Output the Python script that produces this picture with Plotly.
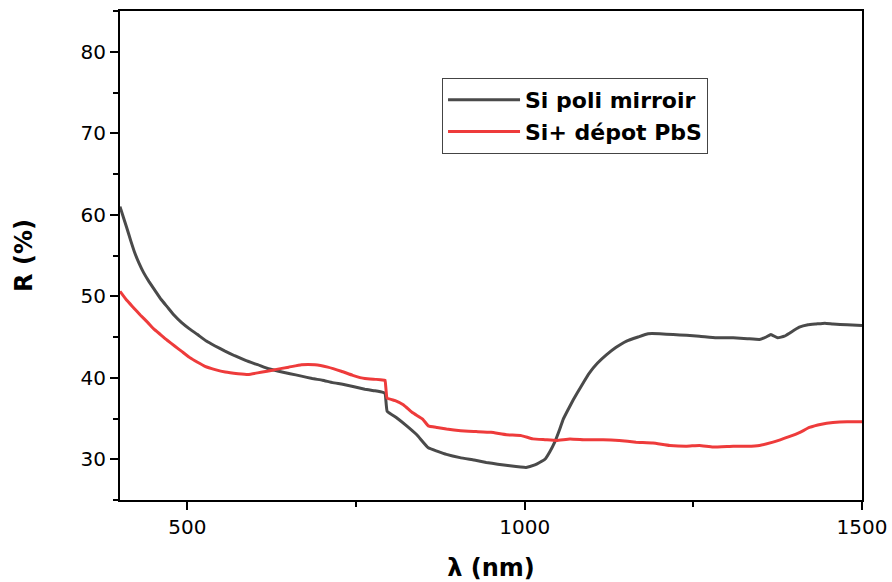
import plotly.graph_objects as go

# Wavelength (nm) and reflectance (%)
x_si = [400, 405, 410, 416, 422, 428, 435, 443, 452, 461, 470, 480, 491, 503, 515, 528, 541, 555, 570,
        587, 604, 620, 635, 652, 669, 685, 700, 715, 730, 747, 763, 778, 790, 793, 796,
        810, 825, 840, 857, 870, 884, 904, 925, 943, 960, 978, 1002, 1015, 1022, 1030, 1037, 1045, 1052,
        1057, 1065, 1072, 1084, 1096, 1108, 1121, 1135, 1151, 1168, 1183, 1200, 1220, 1240, 1259, 1284,
        1309, 1330, 1348, 1358, 1365, 1375, 1385, 1393, 1407, 1420, 1432, 1445, 1457, 1478, 1500]
r_si = [61.0, 59.7, 58.4, 56.8, 55.3, 54.1, 52.9, 51.8, 50.7, 49.6, 48.7, 47.7, 46.8, 46.0, 45.3, 44.5,
        43.9, 43.3, 42.7, 42.1, 41.6, 41.1, 40.8, 40.5, 40.2, 39.9, 39.7, 39.4, 39.2, 38.9, 38.6, 38.4,
        38.2, 38.1, 35.9, 35.1, 34.1, 33.0, 31.4, 31.0, 30.6, 30.2, 29.9, 29.6, 29.4, 29.2, 29.0, 29.3,
        29.6, 30.0, 30.9, 32.2, 33.7, 34.9, 36.2, 37.3, 39.0, 40.6, 41.8, 42.8, 43.7, 44.5, 45.0, 45.4,
        45.4, 45.3, 45.2, 45.1, 44.9, 44.9, 44.8, 44.7, 45.0, 45.3, 44.9, 45.1, 45.5, 46.2, 46.5, 46.6,
        46.7, 46.6, 46.5, 46.4]

x_pbs = [400, 410, 420, 430, 441, 450, 460, 470, 481, 492, 503, 515, 526, 541, 556, 575, 590, 604, 618,
         630, 650, 669, 689, 708, 728, 745, 763, 780, 792, 793, 796, 808, 820, 834, 849, 857, 870, 884,
         905, 928, 950, 973, 995, 1012, 1030, 1047, 1067, 1090, 1116, 1140, 1165, 1190, 1215, 1240, 1259,
         1279, 1309, 1330, 1348, 1368, 1393, 1408, 1422, 1440, 1457, 1478, 1500]
r_pbs = [50.6, 49.5, 48.6, 47.7, 46.8, 46.0, 45.3, 44.6, 43.9, 43.2, 42.5, 41.9, 41.4, 41.0, 40.7, 40.5,
         40.4, 40.6, 40.8, 41.0, 41.3, 41.6, 41.6, 41.3, 40.8, 40.3, 39.9, 39.8, 39.7, 39.7, 37.5, 37.2,
         36.7, 35.7, 34.9, 34.1, 33.9, 33.7, 33.5, 33.4, 33.3, 33.0, 32.9, 32.5, 32.4, 32.3, 32.5, 32.4,
         32.4, 32.3, 32.1, 32.0, 31.7, 31.6, 31.7, 31.5, 31.6, 31.6, 31.7, 32.1, 32.8, 33.3, 33.9, 34.3,
         34.5, 34.6, 34.6]

names = ["Si poli mirroir", "Si+ dépot PbS"]
colors = ["#4a4a4a", "#ee3b3b"]

FONT = "DejaVu Sans, Arial, sans-serif"

fig = go.Figure()
fig.add_trace(go.Scatter(x=x_si, y=r_si, mode="lines", name=names[0],
                         line=dict(color=colors[0], width=3, shape="spline", smoothing=0.3)))
fig.add_trace(go.Scatter(x=x_pbs, y=r_pbs, mode="lines", name=names[1],
                         line=dict(color=colors[1], width=3, shape="spline", smoothing=0.3)))

axis_common = dict(showline=True, linecolor="black", linewidth=2, mirror=True,
                   ticks="outside", ticklen=8, tickwidth=2, tickcolor="black",
                   showgrid=False, zeroline=False, automargin=False,
                   tickfont=dict(family=FONT, size=20, color="black"))

fig.update_layout(
    width=892, height=582,
    margin=dict(l=120, r=30, t=11, b=82),
    plot_bgcolor="white", paper_bgcolor="white",
    font=dict(family=FONT, color="black"),
    xaxis=dict(range=[400, 1500], tickvals=[500, 1000, 1500],
               minor=dict(ticks="outside", ticklen=5, tickwidth=2, tickcolor="black",
                          tickvals=[750, 1250]),
               title=dict(text="<b>λ (nm)</b>", font=dict(family=FONT, size=24), standoff=22),
               **axis_common),
    yaxis=dict(range=[25, 85], tickvals=[30, 40, 50, 60, 70, 80],
               minor=dict(ticks="outside", ticklen=5, tickwidth=2, tickcolor="black",
                          tickvals=[25, 35, 45, 55, 65, 75, 85]),
               title=dict(text="<b>R (%)</b>", font=dict(family=FONT, size=24), standoff=41),
               **axis_common),
    legend=dict(x=0.434, y=0.863, xanchor="left", yanchor="top",
                bordercolor="#444", borderwidth=1, bgcolor="white",
                font=dict(family=FONT, size=22, color="black", weight="bold"),
                itemwidth=72,
                tracegroupgap=0),
    showlegend=True,
)

fig.write_html("out.html")
